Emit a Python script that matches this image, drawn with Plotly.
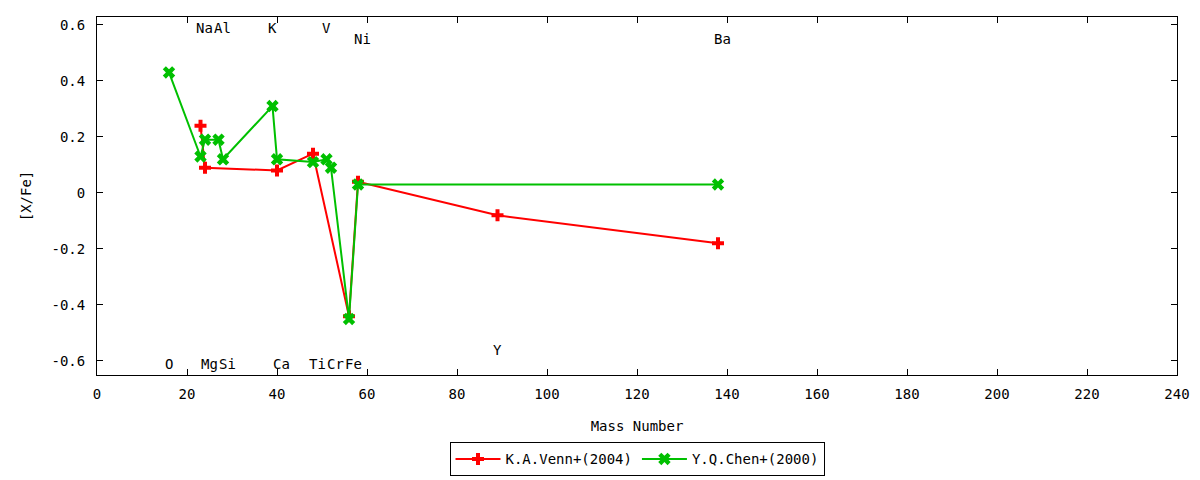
import plotly.graph_objects as go

# Data
venn_mass = [23, 24, 40, 48, 56, 58, 89, 138]
venn_xfe = [0.24, 0.09, 0.08, 0.14, -0.44, 0.04, -0.08, -0.18]

chen_mass = [16, 23, 24, 27, 28, 39, 40, 48, 51, 52, 56, 58, 138]
chen_xfe = [0.43, 0.13, 0.19, 0.19, 0.12, 0.31, 0.12, 0.11, 0.12, 0.09, -0.45, 0.03, 0.03]

label_names = ["Na", "Al", "K", "V", "Ni", "Ba", "O", "Mg", "Si", "Ca", "Ti", "Cr", "Fe", "Y"]
label_mass = [23, 27, 39, 51, 58, 138, 16, 24, 28, 40, 48, 52, 56, 89]
label_y = [0.6, 0.6, 0.6, 0.6, 0.56, 0.56, -0.6, -0.6, -0.6, -0.6, -0.6, -0.6, -0.6, -0.55]

x_ticks = list(range(0, 241, 20))
y_ticks = [-0.6, -0.4, -0.2, 0, 0.2, 0.4, 0.6]
y_tick_text = ["-0.6", "-0.4", "-0.2", "0", "0.2", "0.4", "0.6"]

FONT = "DejaVu Sans Mono"
FS = 13

fig = go.Figure()
fig.add_trace(go.Scatter(
    x=venn_mass, y=venn_xfe, mode="lines+markers", name="K.A.Venn+(2004)",
    line=dict(color="#ff0000", width=2),
    marker=dict(symbol="cross", size=10, color="#ff0000"),
))
fig.add_trace(go.Scatter(
    x=chen_mass, y=chen_xfe, mode="lines+markers", name="Y.Q.Chen+(2000)",
    line=dict(color="#00c000", width=2),
    marker=dict(symbol="x", size=11, color="#00c000"),
))

for name, m, yv in zip(label_names, label_mass, label_y):
    fig.add_annotation(
        x=m, y=yv, text=name, showarrow=False, xanchor="center", yanchor="middle",
        xshift=4 if len(name) == 2 else 0, yshift=-3,
        font=dict(family=FONT, size=FS + 1, color="black"),
    )

axis_common = dict(
    showgrid=False, zeroline=False, showline=True, linecolor="black", linewidth=1,
    mirror="ticks", ticks="inside", ticklen=6, tickcolor="black", automargin=False,
    tickfont=dict(family=FONT, size=FS + 1, color="black"),
)

fig.update_xaxes(range=[0, 240], tickvals=x_ticks, ticklabelstandoff=6,
                 title=dict(text="Mass Number", font=dict(family=FONT, size=FS + 1, color="black"), standoff=20),
                 **axis_common)
fig.update_yaxes(range=[-0.65, 0.628], tickvals=y_ticks, ticktext=y_tick_text, ticklabelstandoff=8,
                 title=dict(text="[X/Fe]", font=dict(family=FONT, size=FS + 1, color="black"), standoff=16),
                 **axis_common)

fig.update_layout(
    width=1200, height=480,
    margin=dict(l=97, r=23, t=17, b=105, autoexpand=False),
    paper_bgcolor="white", plot_bgcolor="white",
    font=dict(family=FONT, size=FS, color="black"),
    showlegend=True,
    legend=dict(orientation="h", x=0.5, xanchor="center", y=-0.283, yanchor="bottom",
                bordercolor="black", borderwidth=1, bgcolor="white",
                font=dict(family=FONT, size=FS + 1, color="black"), itemwidth=45,
                tracegroupgap=0),
)

fig.write_html("out.html",
               config={"displayModeBar": False},
               post_script="document.body.style.margin='0';document.body.style.overflow='hidden';")
